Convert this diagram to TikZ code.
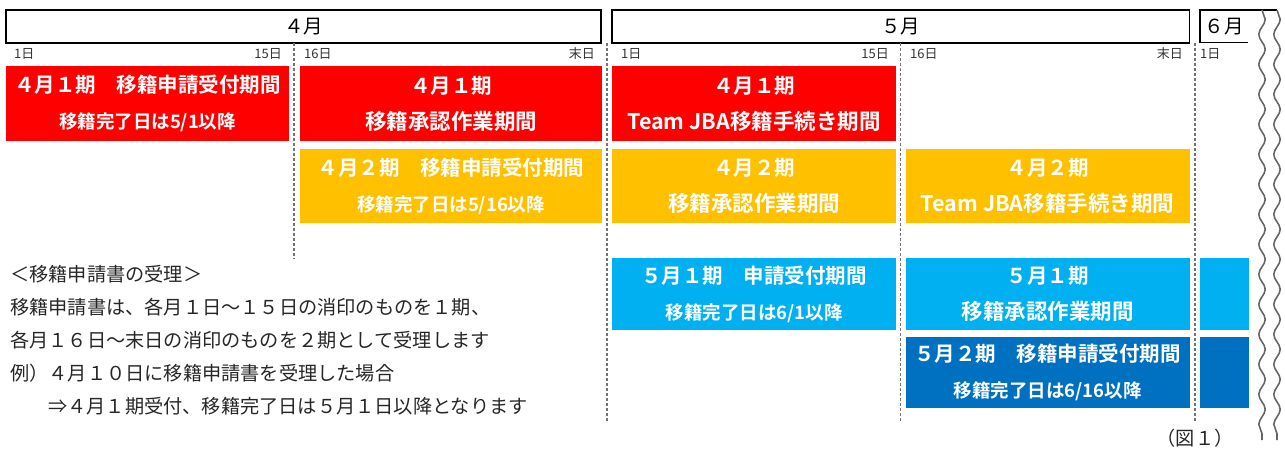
\documentclass[tikz,border=0pt]{standalone}
\usepackage{fontspec}
\setmainfont{Noto Sans CJK JP}[BoldFont={Noto Sans CJK JP Bold}]
\usepackage{tikz}
\usetikzlibrary{decorations.pathmorphing}
\definecolor{firstred}{RGB}{255,0,0}
\definecolor{secondorange}{RGB}{255,192,0}
\definecolor{mayblue}{RGB}{0,176,240}
\definecolor{maydark}{RGB}{0,112,192}
\newcommand{\duefont}{\fontsize{18.5}{36}\selectfont}
\newcommand{\taskfont}{\fontsize{21.5}{36}\selectfont}

\begin{document}
\begin{tikzpicture}[
    x=1pt, y=-1pt,
    month/.style={draw=black, line width=1.5pt, minimum height=32.7pt, inner sep=0pt, font=\fontsize{19.5}{19.5}\selectfont},
    day/.style={inner sep=0pt, text=black!80, font=\fontsize{13}{13}\selectfont},
    divider/.style={densely dashed, black!55, line width=1.3pt},
    period/.style={inner sep=0pt, text=white, align=center, font=\bfseries\fontsize{20.5}{36}\selectfont},
    note/.style={inner sep=0pt, anchor=west, text=black!85, font=\fontsize{19.2}{19.2}\selectfont},
    cut/.style={black!60, line width=1.6pt, decorate, decoration={snake, amplitude=3.2pt, segment length=30pt}}
]
    \useasboundingbox (0,0) rectangle (1285,448);

    % Month headers
    \node[month, minimum width=595pt] (apr) at (303.5,26.4) {４月};
    \node[month, minimum width=577.5pt] (may) at (900.75,26.4) {５月};
    \node[month, draw=none, minimum width=48pt] (jun) at (1224,26.4) {６月};
    \draw[line width=1.5pt] (1248,42.7) -| (1200,10) -- (1277,10);

    % Day labels
    \node[day, anchor=west] (a1) at (14,54) {1日};
    \node[day, anchor=east] (a15) at (282,54) {15日};
    \node[day, anchor=west] (a16) at (304,54) {16日};
    \node[day, anchor=east] (aend) at (595,54) {末日};
    \node[day, anchor=west] (m1) at (621,54) {1日};
    \node[day, anchor=east] (m15) at (889,54) {15日};
    \node[day, anchor=west] (m16) at (910,54) {16日};
    \node[day, anchor=east] (mend) at (1183,54) {末日};
    \node[day, anchor=west] (j1) at (1200,54) {1日};

    % Dividers
    \draw[divider] (294,43) -- (294,259);
    \draw[divider] (607,43) -- (607,422);
    \draw[divider] (900.5,43) -- (900.5,422);
    \draw[divider] (1195,43) -- (1195,422);

    % April 1st period
    \node[period, fill=firstred, minimum width=283pt, minimum height=75pt] (aprOneRecv) at (147.5,103.5)
        {４月１期　移籍申請受付期間\\{\duefont 移籍完了日は5/1以降}};
    \node[period, fill=firstred, minimum width=302pt, minimum height=75pt] (aprOneCheck) at (451,103.5)
        {４月１期\\{\taskfont 移籍承認作業期間}};
    \node[period, fill=firstred, minimum width=284pt, minimum height=75pt] (aprOneJba) at (754,103.5)
        {４月１期\\{\taskfont Team JBA移籍手続き期間}};

    % April 2nd period
    \node[period, fill=secondorange, minimum width=302pt, minimum height=74pt] (aprTwoRecv) at (451,186)
        {４月２期　移籍申請受付期間\\{\duefont 移籍完了日は5/16以降}};
    \node[period, fill=secondorange, minimum width=284pt, minimum height=74pt] (aprTwoCheck) at (754,186)
        {４月２期\\{\taskfont 移籍承認作業期間}};
    \node[period, fill=secondorange, minimum width=284pt, minimum height=74pt] (aprTwoJba) at (1047.6,186)
        {４月２期\\{\taskfont Team JBA移籍手続き期間}};

    % May periods
    \node[period, fill=mayblue, minimum width=284pt, minimum height=72pt] (mayOneRecv) at (754,294)
        {５月１期　申請受付期間\\{\duefont 移籍完了日は6/1以降}};
    \node[period, fill=mayblue, minimum width=284pt, minimum height=72pt] (mayOneCheck) at (1047.6,294)
        {５月１期\\{\taskfont 移籍承認作業期間}};
    \node[period, fill=mayblue, minimum width=49pt, minimum height=72pt] (mayOneJba) at (1224.5,294) {};
    \node[period, fill=maydark, minimum width=284pt, minimum height=71pt] (mayTwoRecv) at (1047.6,372)
        {５月２期　移籍申請受付期間\\{\duefont 移籍完了日は6/16以降}};
    \node[period, fill=maydark, minimum width=49pt, minimum height=71pt] (mayTwoCheck) at (1224.5,372) {};

    % Notes
    \node[note] (noteHead) at (10,274) {＜移籍申請書の受理＞};
    \node[note] (noteOne) at (10,307) {移籍申請書は、各月１日～１５日の消印のものを１期、};
    \node[note] (noteTwo) at (10,340) {各月１６日～末日の消印のものを２期として受理します};
    \node[note] (noteEx) at (10,373) {例）４月１０日に移籍申請書を受理した場合};
    \node[note] (noteRes) at (48,406) {⇒４月１期受付、移籍完了日は５月１日以降となります};
    \node[note, anchor=center] (fig) at (1195,438) {（図１）};

    % Cut lines
    \draw[cut] (1262,10) -- (1262,440);
    \draw[cut] (1277,10) -- (1277,440);
\end{tikzpicture}
\end{document}
